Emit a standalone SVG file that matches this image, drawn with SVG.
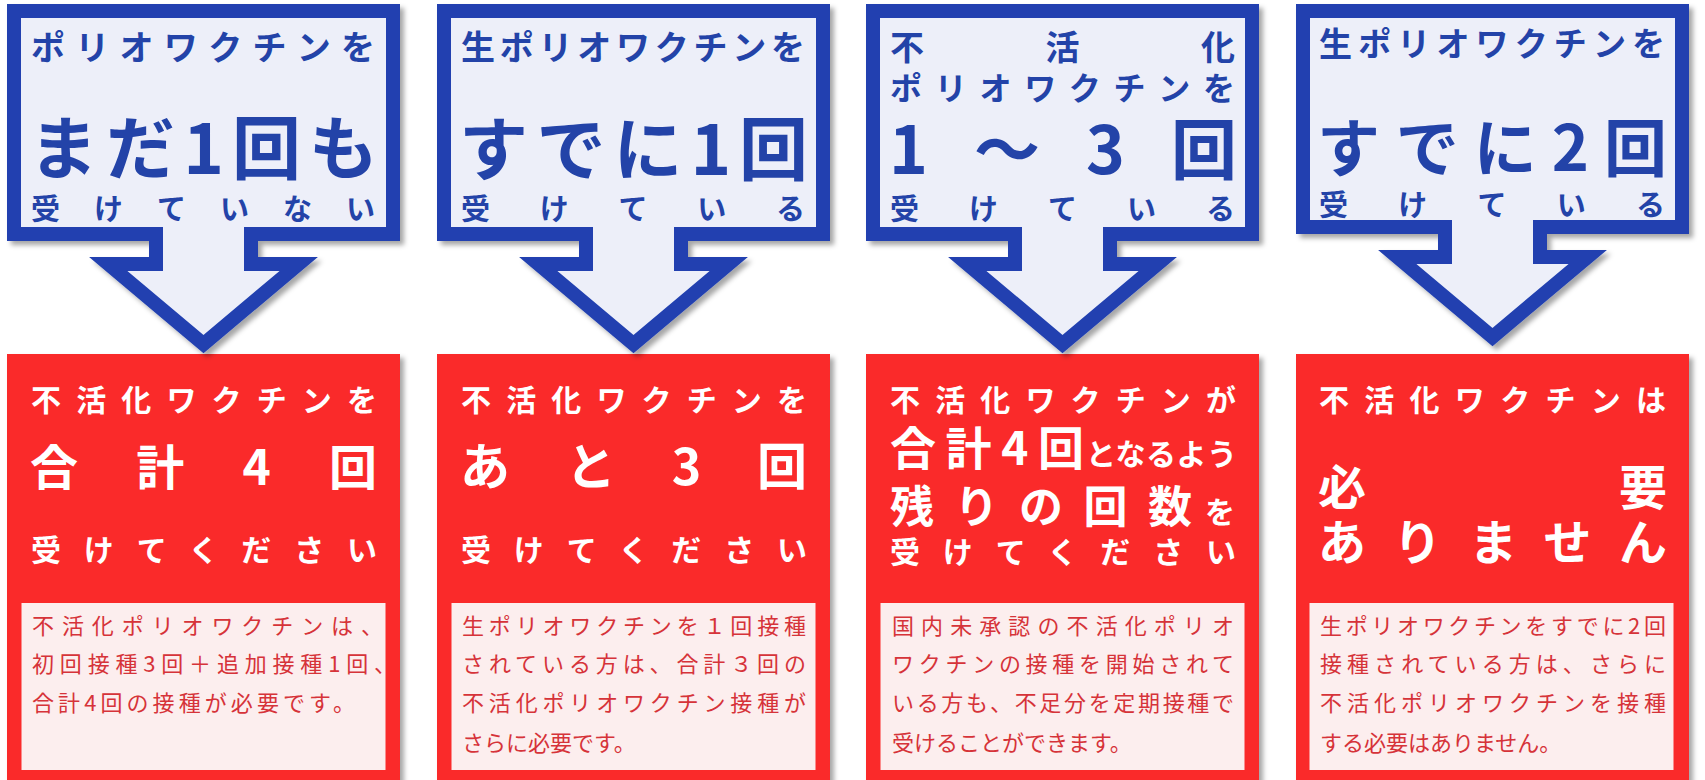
<svg xmlns="http://www.w3.org/2000/svg" width="1705" height="780" viewBox="0 0 1705 780">
<defs>
<filter id="sh" x="-5%" y="-5%" width="115%" height="115%">
<feDropShadow dx="4" dy="4" stdDeviation="2.5" flood-color="#000" flood-opacity="0.35"/>
</filter>
<path id="callout" d="M-189.5,11 H189.5 V234 H47.5 V264 H95.2 L0,344 L-95.2,264 H-47.5 V234 H-189.5 Z"/>
<path id="callout4" d="M-189.5,11 H189.5 V227 H47.5 V257 H95.2 L0,337 L-95.2,257 H-47.5 V227 H-189.5 Z"/>
</defs>
<style>
.co{fill:#EDEFF9;stroke:#2141B0;stroke-width:14;stroke-linejoin:miter;stroke-miterlimit:6}
.red{fill:#FA2A2A}
.pb{fill:#FCEEEE}
text{font-family:"Noto Sans CJK JP","Noto Sans CJK SC",sans-serif}
.b{fill:#2343A8;font-weight:700}
.w{fill:#FFFFFF;font-weight:700}
.p{fill:#D63339;font-size:22px;font-weight:400}
</style>
<rect width="1705" height="780" fill="#FFFFFF"/>

<g id="connectors"></g>

<!-- Result boxes -->
<g id="result-1">
<rect class="red" x="7" y="354" width="393" height="430" filter="url(#sh)"/>
<rect class="pb" x="21.5" y="603" width="364" height="167"/>
<text class="w" x="31" y="411" font-size="30" textLength="346" lengthAdjust="spacing">不活化ワクチンを</text>
<text class="w" x="30" y="485" font-size="48" textLength="347" lengthAdjust="spacing">合計4回</text>
<text class="w" x="31" y="561" font-size="30" textLength="346" lengthAdjust="spacing">受けてください</text>
<text class="p" x="32" y="634" textLength="351" lengthAdjust="spacing">不活化ポリオワクチンは、</text>
<text class="p" x="32" y="672" textLength="364" lengthAdjust="spacing">初回接種3回＋追加接種1回、</text>
<text class="p" x="32" y="711" textLength="323" lengthAdjust="spacing">合計4回の接種が必要です。</text>
</g>

<g id="result-2">
<rect class="red" x="437" y="354" width="393" height="430" filter="url(#sh)"/>
<rect class="pb" x="451.5" y="603" width="364" height="167"/>
<text class="w" x="461" y="411" font-size="30" textLength="346" lengthAdjust="spacing">不活化ワクチンを</text>
<text class="w" x="460" y="485" font-size="50" textLength="347" lengthAdjust="spacing">あと3回</text>
<text class="w" x="461" y="561" font-size="30" textLength="346" lengthAdjust="spacing">受けてください</text>
<text class="p" x="462" y="634" textLength="344" lengthAdjust="spacing">生ポリオワクチンを１回接種</text>
<text class="p" x="462" y="672" textLength="344" lengthAdjust="spacing">されている方は、合計３回の</text>
<text class="p" x="462" y="711" textLength="344" lengthAdjust="spacing">不活化ポリオワクチン接種が</text>
<text class="p" x="462" y="751">さらに必要です。</text>
</g>

<g id="result-3">
<rect class="red" x="866" y="354" width="393" height="430" filter="url(#sh)"/>
<rect class="pb" x="880.5" y="603" width="364" height="167"/>
<text class="w" x="890" y="411" font-size="30" textLength="346" lengthAdjust="spacing">不活化ワクチンが</text>
<text class="w" x="890" y="465" font-size="46" textLength="194" lengthAdjust="spacing">合計4回</text>
<text class="w" x="1086" y="465" font-size="30" textLength="151" lengthAdjust="spacing">となるよう</text>
<text class="w" x="890" y="523" font-size="44" textLength="302" lengthAdjust="spacing">残りの回数</text>
<text class="w" x="1205" y="523" font-size="30">を</text>
<text class="w" x="890" y="563" font-size="30" textLength="346" lengthAdjust="spacing">受けてください</text>
<text class="p" x="892" y="634" textLength="342" lengthAdjust="spacing">国内未承認の不活化ポリオ</text>
<text class="p" x="892" y="672" textLength="342" lengthAdjust="spacing">ワクチンの接種を開始されて</text>
<text class="p" x="892" y="711" textLength="342" lengthAdjust="spacing">いる方も、不足分を定期接種で</text>
<text class="p" x="892" y="751">受けることができます。</text>
</g>

<g id="result-4">
<rect class="red" x="1296" y="354" width="393" height="430" filter="url(#sh)"/>
<rect class="pb" x="1309.5" y="603" width="364" height="167"/>
<text class="w" x="1319" y="411" font-size="30" textLength="347" lengthAdjust="spacing">不活化ワクチンは</text>
<text class="w" x="1318" y="505" font-size="48" textLength="349" lengthAdjust="spacing">必要</text>
<text class="w" x="1318" y="560" font-size="48" textLength="349" lengthAdjust="spacing">ありません</text>
<text class="p" x="1320" y="634" textLength="346" lengthAdjust="spacing">生ポリオワクチンをすでに2回</text>
<text class="p" x="1320" y="672" textLength="346" lengthAdjust="spacing">接種されている方は、さらに</text>
<text class="p" x="1320" y="711" textLength="346" lengthAdjust="spacing">不活化ポリオワクチンを接種</text>
<text class="p" x="1320" y="751">する必要はありません。</text>
</g>

<!-- Callouts -->
<g id="callout-1">
<use href="#callout" class="co" transform="translate(203.5,0)" filter="url(#sh)"/>
<text class="b" x="31" y="60" font-size="34" textLength="344" lengthAdjust="spacing">ポリオワクチンを</text>
<text class="b" x="29" y="174" font-size="69" textLength="349" lengthAdjust="spacing">まだ1回も</text>
<text class="b" x="31" y="220" font-size="29" textLength="344" lengthAdjust="spacing">受けていない</text>
</g>

<g id="callout-2">
<use href="#callout" class="co" transform="translate(633.5,0)" filter="url(#sh)"/>
<text class="b" x="461" y="60" font-size="34" textLength="344" lengthAdjust="spacing">生ポリオワクチンを</text>
<text class="b" x="459" y="175" font-size="69" textLength="349" lengthAdjust="spacing">すでに1回</text>
<text class="b" x="461" y="220" font-size="29" textLength="344" lengthAdjust="spacing">受けている</text>
</g>

<g id="callout-3">
<use href="#callout" class="co" transform="translate(1062.5,0)" filter="url(#sh)"/>
<text class="b" x="890" y="60" font-size="34" textLength="345" lengthAdjust="spacing">不活化</text>
<text class="b" x="890" y="100" font-size="32" textLength="345" lengthAdjust="spacing">ポリオワクチンを</text>
<text class="b" x="889" y="174" font-size="66" textLength="348" lengthAdjust="spacing">1～3回</text>
<text class="b" x="890" y="220" font-size="29" textLength="345" lengthAdjust="spacing">受けている</text>
</g>

<g id="callout-4">
<use href="#callout4" class="co" transform="translate(1492.5,0)" filter="url(#sh)"/>
<text class="b" x="1319" y="56" font-size="33" textLength="346" lengthAdjust="spacing">生ポリオワクチンを</text>
<text class="b" x="1317" y="171" font-size="63" textLength="350" lengthAdjust="spacing">すでに2回</text>
<text class="b" x="1319" y="216" font-size="29" textLength="346" lengthAdjust="spacing">受けている</text>
</g>
</svg>
